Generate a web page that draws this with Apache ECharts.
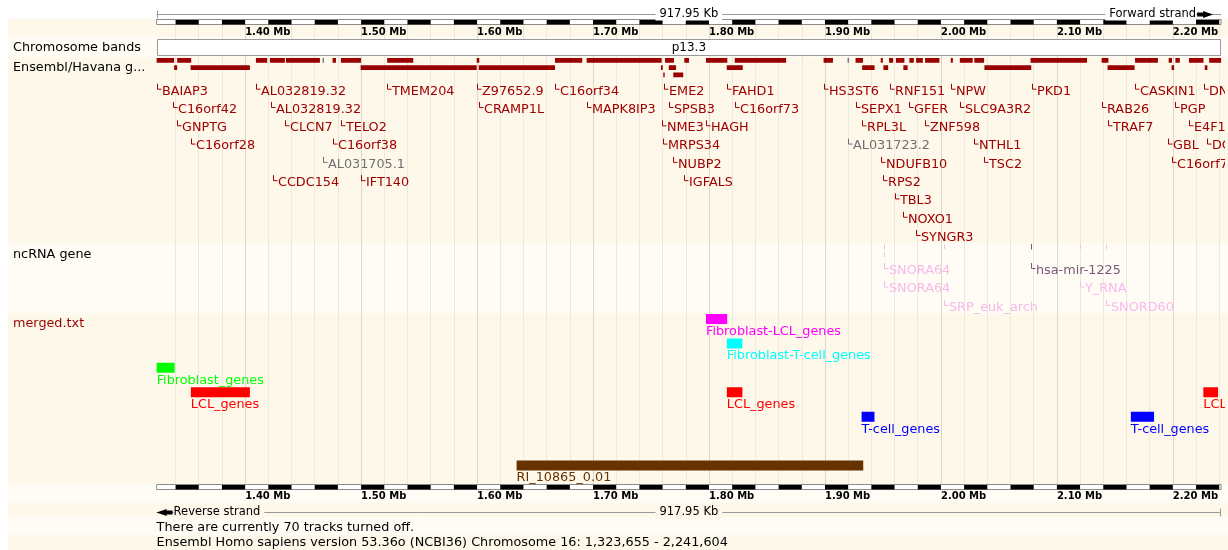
<!DOCTYPE html>
<html>
<head>
<meta charset="utf-8">
<script src="https://cdn.jsdelivr.net/npm/echarts@6/dist/echarts.min.js"></script>
<style>
  html, body { margin: 0; padding: 0; background: #ffffff; }
  #chart { width: 1228px; height: 550px; }
</style>
</head>
<body>
<div id="chart"></div>
<script>
// ---- Region on chromosome 16 (bp) ----
const chromosome = '16';
const viewStartBp = 1323655;
const viewEndBp = 2241604;
const viewStart = viewStartBp / 1000;   // kb
const viewEnd = viewEndBp / 1000;       // kb
const assembly = 'Ensembl Homo sapiens version 53.36o (NCBI36)';
const tracksOff = 70;

// ruler tick labels (kb) and the unit of the black/white scale bar (kb)
const tickKb = [1400, 1500, 1600, 1700, 1800, 1900, 2000, 2100, 2200];
const scaleUnitKb = 20;

// cytogenetic bands: [name, start kb, end kb]
const chromBands = [['p13.3', 0, 6300]];

// Ensembl/Havana gene blocks: [start kb, end kb, row, kind]  kind 0 = coding, 1 = other
const geneBlocks = [
  [1323.7, 1338.8, 0, 0], [1341.4, 1353.5, 0, 0], [1409.3, 1419.0, 0, 0], [1421.4, 1434.3, 0, 0],
  [1435.2, 1464.5, 0, 0], [1466.8, 1468.0, 0, 1], [1475.4, 1478.3, 0, 0], [1482.6, 1499.9, 0, 0],
  [1522.5, 1545.0, 0, 0], [1599.7, 1601.9, 0, 0], [1667.2, 1690.7, 0, 0], [1694.5, 1759.2, 0, 0],
  [1762.1, 1769.8, 0, 0], [1778.7, 1782.8, 0, 0], [1797.4, 1815.8, 0, 0], [1822.2, 1866.5, 0, 0],
  [1898.8, 1906.9, 0, 0], [1919.5, 1920.8, 0, 1], [1926.4, 1932.8, 0, 0], [1948.1, 1949.9, 0, 0],
  [1955.3, 1958.8, 0, 0], [1961.2, 1968.5, 0, 0], [1972.8, 1976.6, 0, 0], [1978.6, 1984.4, 0, 0],
  [1986.3, 1998.7, 0, 0], [2008.5, 2010.3, 0, 0], [2016.3, 2027.4, 0, 0], [2028.8, 2037.2, 0, 0],
  [2077.3, 2126.0, 0, 0], [2138.6, 2144.4, 0, 0], [2167.4, 2187.1, 0, 0], [2196.4, 2199.3, 0, 0],
  [2202.2, 2206.0, 0, 0], [2213.9, 2226.4, 0, 0], [2231.3, 2241.6, 0, 0],
  [1338.8, 1341.4, 1, 0], [1353.0, 1404.1, 1, 0], [1499.6, 1599.7, 1, 0], [1601.4, 1667.2, 1, 0],
  [1758.6, 1760.1, 1, 0], [1765.3, 1771.6, 1, 0], [1815.3, 1829.1, 1, 0], [1932.1, 1942.8, 1, 0],
  [1950.4, 1954.5, 1, 0], [1967.6, 1971.3, 1, 0], [2037.5, 2077.9, 1, 0], [2143.7, 2167.0, 1, 0],
  [2198.9, 2201.1, 1, 0], [2227.5, 2229.8, 1, 0],
  [1760.6, 1761.8, 2, 0], [1769.2, 1777.8, 2, 0]
];

// gene names: [name, start kb, label row, kind]
const geneLabels = [
  ['BAIAP3', 1323.1, 0, 0], ['AL032819.32', 1409.3, 0, 0], ['TMEM204', 1522.0, 0, 0],
  ['Z97652.9', 1599.7, 0, 0], ['C16orf34', 1666.9, 0, 0], ['EME2', 1761.2, 0, 0],
  ['FAHD1', 1815.3, 0, 0], ['HS3ST6', 1899.2, 0, 0], ['RNF151', 1955.7, 0, 0],
  ['NPW', 2008.5, 0, 0], ['PKD1', 2078.2, 0, 0], ['CASKIN1', 2167.4, 0, 0], ['DNASE1L2', 2226.9, 0, 0],
  ['C16orf42', 1338.0, 1, 0], ['AL032819.32', 1422.0, 1, 0], ['CRAMP1L', 1601.4, 1, 0],
  ['MAPK8IP3', 1695.1, 1, 0], ['SPSB3', 1765.3, 1, 0], ['C16orf73', 1822.2, 1, 0],
  ['SEPX1', 1926.4, 1, 0], ['GFER', 1972.8, 1, 0], ['SLC9A3R2', 2016.3, 1, 0],
  ['RAB26', 2138.6, 1, 0], ['PGP', 2202.2, 1, 0],
  ['GNPTG', 1340.9, 2, 0], ['CLCN7', 1434.6, 2, 0], ['TELO2', 1482.4, 2, 0],
  ['NME3', 1759.5, 2, 0], ['HAGH', 1797.4, 2, 0], ['RPL3L', 1932.1, 2, 0],
  ['ZNF598', 1985.9, 2, 0], ['TRAF7', 2144.4, 2, 0], ['E4F1', 2213.9, 2, 0],
  ['C16orf28', 1353.0, 3, 0], ['C16orf38', 1475.4, 3, 0], ['MRPS34', 1760.6, 3, 0],
  ['AL031723.2', 1919.6, 3, 1], ['NTHL1', 2028.8, 3, 0], ['GBL', 2195.6, 3, 0], ['DCI', 2229.8, 3, 0],
  ['AL031705.1', 1466.8, 4, 1], ['NUBP2', 1769.2, 4, 0], ['NDUFB10', 1948.1, 4, 0],
  ['TSC2', 2037.5, 4, 0], ['C16orf79', 2199.3, 4, 0],
  ['CCDC154', 1423.7, 5, 0], ['IFT140', 1499.6, 5, 0], ['IGFALS', 1778.5, 5, 0], ['RPS2', 1950.1, 5, 0],
  ['TBL3', 1960.3, 6, 0],
  ['NOXO1', 1967.0, 7, 0],
  ['SYNGR3', 1978.6, 8, 0]
];

// ncRNA genes: [position kb, row, kind]  kind 0 = snoRNA/misc, 1 = miRNA
const ncrnaTicks = [
  [1950.5, 0, 0], [1950.5, 1, 0], [2002.3, 0, 0], [2077.7, 0, 1], [2119.9, 0, 0], [2142.3, 0, 0]
];
// ncRNA names: [name, position kb, label row, kind]
const ncrnaLabels = [
  ['SNORA64', 1950.5, 0, 0], ['hsa-mir-1225', 2077.7, 0, 1],
  ['SNORA64', 1950.5, 1, 0], ['Y_RNA', 2119.9, 1, 0],
  ['SRP_euk_arch', 2002.3, 2, 0], ['SNORD60', 2142.3, 2, 0]
];

// merged.txt features: [name, start kb, end kb, row]
const mergedFeatures = [
  ['Fibroblast-LCL_genes', 1797.4, 1815.7, 0],
  ['Fibroblast-T-cell_genes', 1815.4, 1828.8, 1],
  ['Fibroblast_genes', 1323.7, 1339.2, 2],
  ['LCL_genes', 1353.2, 1404.1, 3],
  ['LCL_genes', 1815.4, 1828.8, 3],
  ['LCL_genes', 2226.3, 2239.0, 3],
  ['T-cell_genes', 1931.6, 1942.7, 4],
  ['T-cell_genes', 2163.8, 2183.8, 4],
  ['RI_10865_0.01', 1634.1, 1933.0, 6]
];

// ---- styles ----
const FONT = 'DejaVu Sans';
const CREAM = '#fdf8ea';
const LIGHT = '#fffcf5';
const geneColor = ['#990000', '#777777'];
const geneTextColor = ['#a00000', '#707070'];
const ncColor = ['#f7b9ea', '#7a5a7a'];
const featureColor = {
  'Fibroblast-LCL_genes': '#ff00ff',
  'Fibroblast-T-cell_genes': '#00ffff',
  'Fibroblast_genes': '#00ff00',
  'LCL_genes': '#ff0000',
  'T-cell_genes': '#0000ff',
  'RI_10865_0.01': '#663300'
};

// horizontal layout: view spans pxStart..pxEnd, drawing is clipped at pxClip
const pxStart = 156.6, pxEnd = 1221.1, pxClip = 1224;
const xMax = viewEnd + (pxClip - pxEnd) / (pxEnd - pxStart) * (viewEnd - viewStart);

const minorGridKb = [];
for (let v = Math.ceil(viewStart / scaleUnitKb) * scaleUnitKb; v < viewEnd; v += scaleUnitKb) minorGridKb.push(v);

function fmtBp(n) { return n.toString().replace(/\B(?=(\d{3})+(?!\d))/g, ','); }
const spanLabel = ((viewEndBp - viewStartBp + 1) / 1000).toFixed(2) + ' Kb';

// ---- grids: one per track ----
const grids = [
  { top: 19, height: 470.5 },     // 0 frame (vertical guide lines)
  { top: 19.5, height: 5 },       // 1 top ruler
  { top: 39, height: 16 },        // 2 chromosome bands
  { top: 56.65, height: 21.9 },   // 3 gene blocks
  { top: 81.56, height: 164.6 },  // 4 gene names
  { top: 242.7, height: 16 },     // 5 ncRNA ticks
  { top: 260.75, height: 55.5 },  // 6 ncRNA names
  { top: 306.8, height: 178.3 },  // 7 merged.txt
  { top: 484.5, height: 5 }       // 8 bottom ruler
].map(g => Object.assign({ left: pxStart, right: 1228 - pxClip, containLabel: false }, g));

const yRanges = [[0, 1], [0, 1], [0, 1], [-0.5, 2.5], [-0.5, 8.5], [-0.5, 1.5], [-0.5, 2.5], [-0.5, 6.8], [0, 1]];

function xAx(gridIndex, extra) {
  return Object.assign({
    gridIndex, type: 'value', min: viewStart, max: xMax,
    axisLine: { show: false }, axisTick: { show: false },
    axisLabel: { show: false }, splitLine: { show: false }
  }, extra || {});
}
const tickLabel = (margin) => ({
  show: true, customValues: tickKb, align: 'left', margin,
  fontSize: 10, fontWeight: 'bold', fontFamily: FONT, color: '#000',
  formatter: v => (v / 1000).toFixed(2) + ' Mb'
});

const xAxes = [
  xAx(0, { axisTick: { show: false, customValues: minorGridKb }, splitLine: { show: true, lineStyle: { color: '#eee8d9', width: 1 } } }),
  xAx(0, { axisTick: { show: false, customValues: tickKb }, splitLine: { show: true, lineStyle: { color: '#ddd7c9', width: 1 } } }),
  xAx(1, { axisLabel: tickLabel(3) }),
  xAx(2), xAx(3), xAx(4), xAx(5), xAx(6), xAx(7),
  xAx(8, { axisLabel: tickLabel(2) })
];
const yAxes = yRanges.map((r, i) => ({
  gridIndex: i, type: 'value', min: r[0], max: r[1], inverse: true, show: false
}));

// ---- render helpers ----
function txt(x, y, text, color, opts) {
  return {
    type: 'text',
    style: Object.assign({
      x, y, text, fill: color, fontSize: 12.8, fontFamily: FONT,
      align: 'left', verticalAlign: 'middle', textAlign: 'left', textVerticalAlign: 'middle'
    }, opts || {})
  };
}
function flagged(x0, y, text, color) {
  const gx = Math.round(x0) + 0.5;
  return [
    { type: 'polyline', shape: { points: [[gx, y - 7], [gx, y - 1.5], [gx + 4, y - 1.5]] },
      style: { stroke: color, lineWidth: 1, fill: null } },
    txt(gx + 4.5, y + 0.5, text, color)
  ];
}

function rulerRender(isTop) {
  return function (params, api) {
    const cs = params.coordSys;
    const x0 = api.coord([viewStart, 0])[0];
    const x1 = api.coord([viewEnd, 0])[0];
    const ch = [];
    ch.push({ type: 'rect', shape: { x: x0, y: cs.y, width: x1 - x0, height: cs.height },
      style: { fill: '#ffffff', stroke: '#8c8c8c', lineWidth: 1 } });
    for (let k = Math.floor(viewStart / scaleUnitKb); k * scaleUnitKb < viewEnd; k++) {
      if (k % 2 === 0) continue;
      const a = api.coord([Math.max(k * scaleUnitKb, viewStart), 0])[0];
      const b = api.coord([Math.min((k + 1) * scaleUnitKb, viewEnd), 0])[0];
      ch.push({ type: 'rect', shape: { x: a, y: cs.y + 0.5, width: b - a, height: cs.height - 0.5 },
        style: { fill: '#000000' } });
    }
    const ly = Math.round(isTop ? cs.y - 5.5 : cs.y + cs.height + 22.5) + 0.5;
    const bg = isTop ? '#ffffff' : CREAM;
    const lineStyle = { stroke: '#999999', lineWidth: 1 };
    ch.push({ type: 'line', shape: { x1: x0, y1: ly, x2: x1, y2: ly }, style: lineStyle });
    ch.push(txt((x0 + x1) / 2, ly, spanLabel, '#000', {
      fontSize: 11.5, align: 'center', textAlign: 'center', backgroundColor: bg, padding: [0, 4]
    }));
    if (isTop) {
      const ex = Math.round(x0) + 0.5;
      ch.push({ type: 'line', shape: { x1: ex, y1: ly - 4, x2: ex, y2: ly + 4 }, style: lineStyle });
      const ax = x1 - 24;
      ch.push({ type: 'polygon', shape: { points: [[ax, ly - 2], [ax + 6, ly - 2], [ax + 6, ly - 3.5], [ax + 16, ly],
        [ax + 6, ly + 3.5], [ax + 6, ly + 2], [ax, ly + 2]] }, style: { fill: '#000' } });
      ch.push(txt(ax - 1, ly, 'Forward strand', '#000', {
        fontSize: 11.5, align: 'right', textAlign: 'right', backgroundColor: bg, padding: [0, 0, 0, 4]
      }));
    } else {
      const ex = Math.round(x1) - 0.5;
      ch.push({ type: 'line', shape: { x1: ex, y1: ly - 4, x2: ex, y2: ly + 4 }, style: lineStyle });
      const ax = x0;
      ch.push({ type: 'polygon', shape: { points: [[ax + 16, ly - 2], [ax + 10, ly - 2], [ax + 10, ly - 3.5], [ax, ly],
        [ax + 10, ly + 3.5], [ax + 10, ly + 2], [ax + 16, ly + 2]] }, style: { fill: '#000' } });
      ch.push(txt(ax + 17, ly, 'Reverse strand', '#000', {
        fontSize: 11.5, backgroundColor: bg, padding: [0, 4, 0, 0]
      }));
    }
    return { type: 'group', children: ch };
  };
}

const series = [
  { type: 'custom', xAxisIndex: 2, yAxisIndex: 1, silent: true, data: [[viewStart, 0]], renderItem: rulerRender(true) },
  { type: 'custom', xAxisIndex: 9, yAxisIndex: 8, silent: true, data: [[viewStart, 0]], renderItem: rulerRender(false) },
  {
    type: 'custom', xAxisIndex: 3, yAxisIndex: 2, silent: true,
    data: chromBands.map(b => [b[1], b[2]]),
    renderItem(params, api) {
      const b = chromBands[params.dataIndex];
      const cs = params.coordSys;
      const a = api.coord([Math.max(b[1], viewStart), 0])[0];
      const e = api.coord([Math.min(b[2], viewEnd), 0])[0];
      return { type: 'group', children: [
        { type: 'rect', shape: { x: Math.round(a) + 0.5, y: cs.y + 0.5, width: Math.round(e - a) - 1, height: cs.height },
          style: { fill: '#ffffff', stroke: '#999999', lineWidth: 1 } },
        txt((a + e) / 2, cs.y + cs.height / 2 + 0.5, b[0], '#000', { fontSize: 12, align: 'center', textAlign: 'center' })
      ] };
    }
  },
  {
    type: 'custom', xAxisIndex: 4, yAxisIndex: 3, silent: true, clip: true,
    data: geneBlocks.map(g => [g[0], g[1], g[2]]),
    renderItem(params, api) {
      const g = geneBlocks[params.dataIndex];
      const p0 = api.coord([Math.max(g[0], viewStart), g[2]]);
      const p1 = api.coord([Math.min(g[1], viewEnd), g[2]]);
      const h = api.size([0, 1])[1] * 0.64;
      return { type: 'rect', shape: { x: p0[0], y: p0[1] - h / 2, width: Math.max(p1[0] - p0[0], 1.3), height: h },
        style: { fill: geneColor[g[3]] } };
    }
  },
  {
    type: 'custom', xAxisIndex: 5, yAxisIndex: 4, silent: true, clip: true,
    data: geneLabels.map(g => [g[1], g[2]]),
    renderItem(params, api) {
      const g = geneLabels[params.dataIndex];
      const p = api.coord([Math.max(g[1], viewStart), g[2]]);
      return { type: 'group', children: flagged(p[0], p[1], g[0], geneTextColor[g[3]]) };
    }
  },
  {
    type: 'custom', xAxisIndex: 6, yAxisIndex: 5, silent: true, clip: true,
    data: ncrnaTicks.map(t => [t[0], t[1]]),
    renderItem(params, api) {
      const t = ncrnaTicks[params.dataIndex];
      const p = api.coord([t[0], t[1]]);
      const h = api.size([0, 1])[1] * (t[2] === 1 ? 0.7 : 0.55);
      return { type: 'rect', shape: { x: Math.round(p[0]), y: p[1] - h / 2, width: 1, height: h },
        style: { fill: ncColor[t[2]] } };
    }
  },
  {
    type: 'custom', xAxisIndex: 7, yAxisIndex: 6, silent: true, clip: true,
    data: ncrnaLabels.map(l => [l[1], l[2]]),
    renderItem(params, api) {
      const l = ncrnaLabels[params.dataIndex];
      const p = api.coord([l[1], l[2]]);
      return { type: 'group', children: flagged(p[0], p[1], l[0], ncColor[l[3]]) };
    }
  },
  {
    type: 'custom', xAxisIndex: 8, yAxisIndex: 7, silent: true, clip: true,
    data: mergedFeatures.map(f => [f[1], f[2], f[3]]),
    renderItem(params, api) {
      const f = mergedFeatures[params.dataIndex];
      const p0 = api.coord([Math.max(f[1], viewStart), f[3]]);
      const p1 = api.coord([Math.min(f[2], viewEnd), f[3]]);
      const h = api.size([0, 1])[1] * 0.41;
      const c = featureColor[f[0]];
      return { type: 'group', children: [
        { type: 'rect', shape: { x: p0[0], y: p0[1] - h / 2, width: p1[0] - p0[0], height: h }, style: { fill: c } },
        txt(p0[0], p0[1] + 12.5, f[0], c)
      ] };
    }
  }
];

// ---- page furniture: row shading, track names, footer ----
const rowShading = [
  [19, 37, CREAM], [37, 57, LIGHT], [57, 243.5, CREAM], [243.5, 313.3, LIGHT], [313.3, 485, CREAM],
  [485, 503, LIGHT], [503, 517.5, CREAM], [517.5, 535, LIGHT], [535, 550, CREAM]
];
const trackNames = [
  ['Chromosome bands', 47.5, '#000'],
  ['Ensembl/Havana g...', 68, '#000'],
  ['ncRNA gene', 255, '#000'],
  ['merged.txt', 324, '#990000']
];
const footer = [
  ['There are currently ' + tracksOff + ' tracks turned off.', 528],
  [assembly + ' Chromosome ' + chromosome + ': ' + fmtBp(viewStartBp) + ' - ' + fmtBp(viewEndBp), 542.5]
];

const graphic = [];
rowShading.forEach(r => graphic.push({
  type: 'rect', z: -10, silent: true,
  shape: { x: 8, y: r[0], width: 1220, height: r[1] - r[0] }, style: { fill: r[2] }
}));
trackNames.forEach(t => graphic.push({
  type: 'text', x: 13, y: t[1], silent: true,
  style: { text: t[0], fill: t[2], fontSize: 12.8, fontFamily: FONT,
    textVerticalAlign: 'middle', verticalAlign: 'middle' }
}));
footer.forEach(f => graphic.push({
  type: 'text', x: pxStart, y: f[1], silent: true,
  style: { text: f[0], fill: '#000', fontSize: 12.8, fontFamily: FONT,
    textVerticalAlign: 'middle', verticalAlign: 'middle' }
}));

const chart = echarts.init(document.getElementById('chart'), null, { renderer: 'canvas' });
chart.setOption({
  animation: false,
  backgroundColor: '#ffffff',
  grid: grids,
  xAxis: xAxes,
  yAxis: yAxes,
  graphic,
  series
});
</script>
</body>
</html>
